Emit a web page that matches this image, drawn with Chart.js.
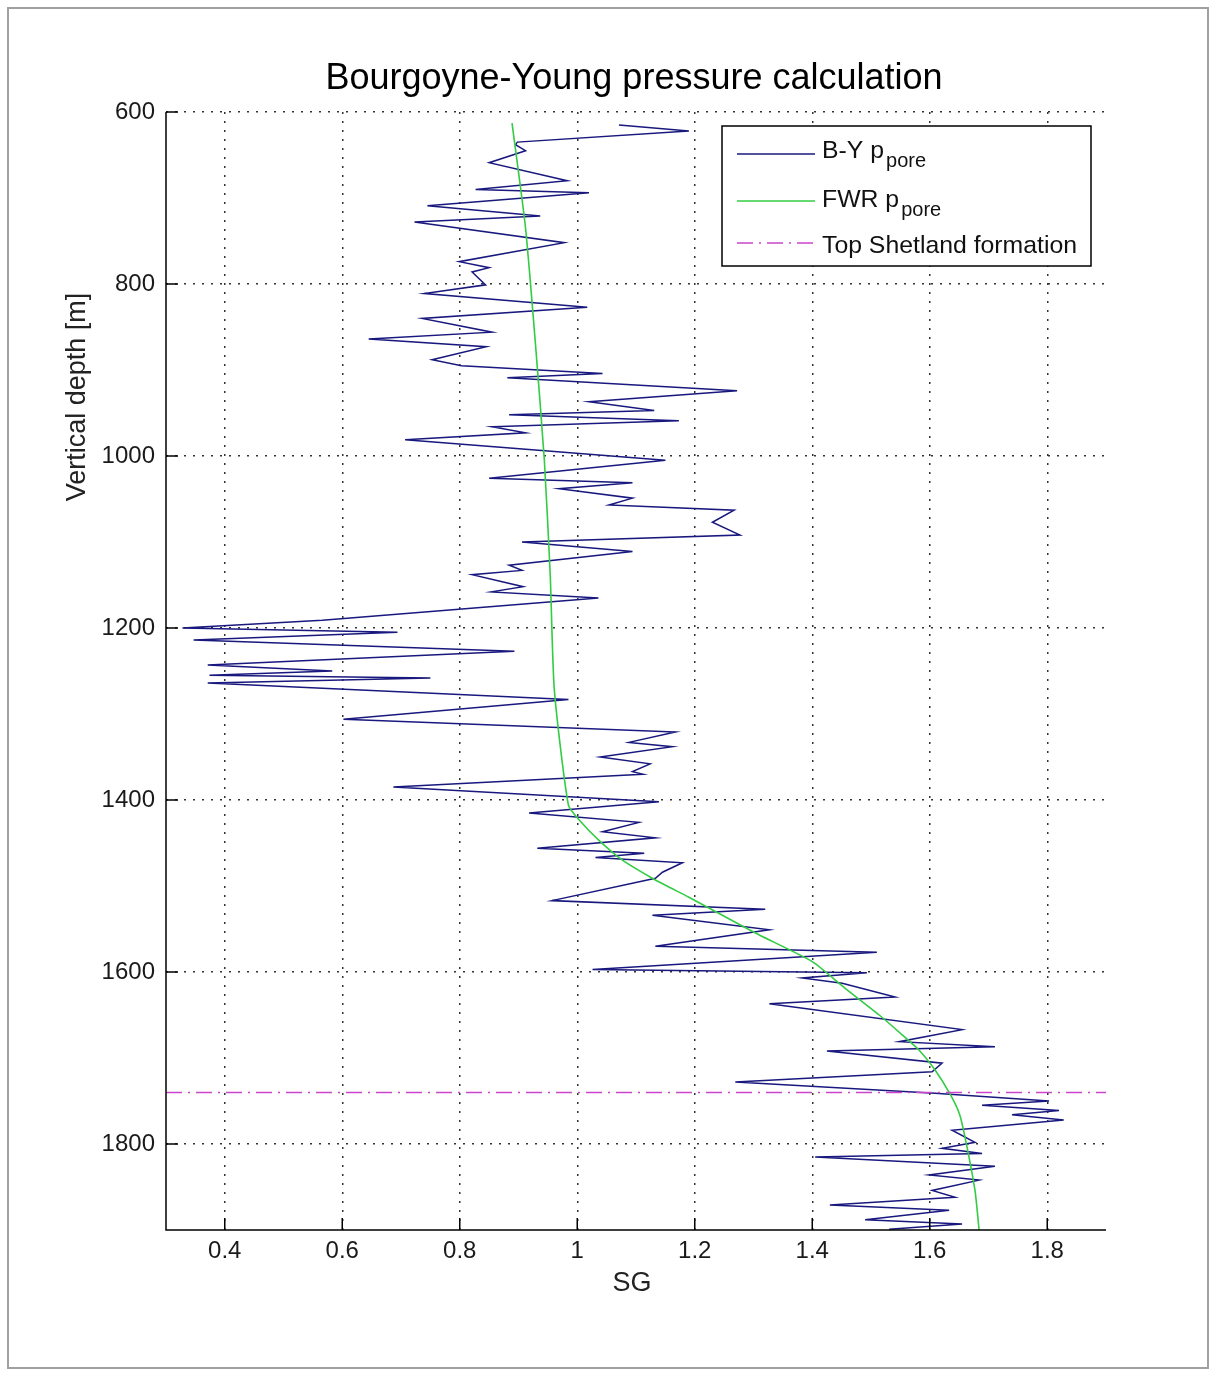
<!DOCTYPE html>
<html>
<head>
<meta charset="utf-8">
<script src="https://cdn.jsdelivr.net/npm/chart.js@4.4.1/dist/chart.umd.min.js"></script>
<style>
  html, body { margin: 0; padding: 0; background: #ffffff; }
  canvas { display: block; }
</style>
</head>
<body>
<canvas id="c" width="1216" height="1376"></canvas>
<script>
// ---------------- data ----------------
const titleText = 'Bourgoyne-Young pressure calculation';
const xLabel = 'SG';
const yLabel = 'Vertical depth [m]';

const xTicks = [0.4, 0.6, 0.8, 1, 1.2, 1.4, 1.6, 1.8];
const yTicks = [600, 800, 1000, 1200, 1400, 1600, 1800];

// B-Y p_pore (SG vs depth)
const bySG = [1.071,1.190,0.898,0.895,0.912,0.850,0.983,0.827,1.020,0.745,
  0.937,0.723,0.978,0.799,0.850,0.821,0.844,0.740,1.017,0.736,
  0.855,0.645,0.845,0.753,0.803,1.043,0.881,1.272,1.020,1.131,
  0.884,1.173,0.855,0.912,0.707,1.150,0.850,1.094,0.969,1.094,
  1.054,1.267,1.230,1.277,0.906,1.094,0.884,0.906,0.821,0.908,
  0.854,1.036,0.566,0.328,0.694,0.347,0.893,0.371,0.583,0.374,
  0.750,0.371,0.985,0.602,1.167,1.088,1.162,1.039,1.124,1.094,
  1.112,0.687,1.139,0.918,1.105,1.043,1.133,0.932,1.114,1.031,
  1.179,1.145,1.133,0.957,1.320,1.128,1.327,1.133,1.510,1.026,
  1.493,1.383,1.451,1.541,1.327,1.655,1.548,1.711,1.425,1.621,
  1.604,1.269,1.609,1.803,1.689,1.820,1.740,1.828,1.638,1.677,
  1.621,1.689,1.405,1.711,1.599,1.684,1.604,1.643,1.430,1.633,
  1.490,1.655,1.531];
const byDepth = [615,622,635,638,645,659,680,690,694,709,
  721,728,752,774,781,786,801,811,827,840,
  856,864,873,888,895,904,909,924,937,947,
  952,959,966,973,981,1005,1026,1031,1038,1049,
  1057,1063,1077,1092,1100,1111,1127,1133,1138,1152,
  1158,1165,1191,1200,1205,1214,1227,1243,1250,1255,
  1258,1264,1283,1306,1321,1333,1338,1350,1358,1367,
  1370,1385,1402,1415,1426,1437,1444,1456,1462,1467,
  1473,1484,1491,1517,1527,1534,1551,1570,1577,1597,
  1601,1607,1613,1629,1637,1667,1681,1687,1692,1706,
  1716,1728,1741,1750,1755,1761,1766,1772,1784,1798,
  1805,1811,1815,1826,1836,1842,1854,1862,1871,1877,
  1888,1893,1899];

// FWR p_pore
const fwrSG = [0.889,0.912,0.929,0.944,0.954,0.961,0.985,1.003,1.037,1.077,
  1.133,1.190,1.247,1.310,1.400,1.456,1.514,1.553,1.582,1.609,
  1.633,1.650,1.660,1.677,1.684];
const fwrDepth = [613,735,871,1005,1138,1272,1406,1423,1447,1470,
  1493,1513,1534,1557,1588,1619,1650,1673,1691,1714,
  1740,1764,1792,1854,1900];

// Top Shetland formation
const shetlandDepth = 1740;
const shetlandSG = [0.3, 1.9];

const legendMain = ['B-Y p', 'FWR p', 'Top Shetland formation'];
const legendSub = ['pore', 'pore', ''];

// ---------------- style ----------------
const FONT = "'Liberation Sans', Arial, Helvetica, sans-serif";
const C_BLUE = '#18187e';
const C_GREEN = '#33cc44';
const C_MAG = '#cc44cc';
const SHET_DASH = [16, 6, 2, 6];

const toXY = (xs, ys) => xs.map((v, i) => ({ x: v, y: ys[i] }));

const decor = {
  id: 'decor',
  beforeDraw(chart) {
    const ctx = chart.ctx;
    ctx.save();
    ctx.fillStyle = '#ffffff';
    ctx.fillRect(0, 0, chart.width, chart.height);
    ctx.restore();
  },
  afterDraw(chart) {
    const { ctx, chartArea: a, scales } = chart;
    const xs = scales.x, ys = scales.y;
    ctx.save();
    // axes lines (left & bottom)
    ctx.strokeStyle = '#000';
    ctx.lineWidth = 1.5;
    ctx.beginPath();
    ctx.moveTo(a.left, a.top);
    ctx.lineTo(a.left, a.bottom);
    ctx.lineTo(a.right, a.bottom);
    ctx.stroke();
    // inward tick marks
    ctx.beginPath();
    xTicks.forEach(v => {
      const px = xs.getPixelForValue(v);
      ctx.moveTo(px, a.bottom);
      ctx.lineTo(px, a.bottom - 12);
    });
    yTicks.forEach(v => {
      const py = ys.getPixelForValue(v);
      ctx.moveTo(a.left, py);
      ctx.lineTo(a.left + 12, py);
    });
    ctx.stroke();

    // title
    ctx.fillStyle = '#000';
    ctx.font = '36px ' + FONT;
    ctx.textAlign = 'center';
    ctx.textBaseline = 'alphabetic';
    ctx.fillText(titleText, 634, 89);

    // x label
    ctx.fillStyle = '#222';
    ctx.font = '27px ' + FONT;
    ctx.textBaseline = 'middle';
    ctx.fillText(xLabel, 632, 1284);

    // y label
    ctx.save();
    ctx.translate(78, 397);
    ctx.rotate(-Math.PI / 2);
    ctx.fillText(yLabel, 0, 0);
    ctx.restore();

    // legend
    const bx = 722, by = 126, bw = 369, bh = 140;
    ctx.fillStyle = '#fff';
    ctx.fillRect(bx, by, bw, bh);
    ctx.strokeStyle = '#000';
    ctx.lineWidth = 1.5;
    ctx.strokeRect(bx, by, bw, bh);
    const rowsY = [154, 201, 243];
    const baseOff = [4, 6, 10];
    const colors = [C_BLUE, C_GREEN, C_MAG];
    rowsY.forEach((ry, i) => {
      ctx.beginPath();
      ctx.strokeStyle = colors[i];
      ctx.lineWidth = 1.5;
      ctx.setLineDash(i === 2 ? SHET_DASH : []);
      ctx.moveTo(737, ry);
      ctx.lineTo(815, ry);
      ctx.stroke();
      ctx.setLineDash([]);
      ctx.fillStyle = '#111';
      ctx.textAlign = 'left';
      ctx.textBaseline = 'alphabetic';
      ctx.font = '24.8px ' + FONT;
      const base = ry + baseOff[i];
      ctx.fillText(legendMain[i], 822, base);
      if (legendSub[i]) {
        const w = ctx.measureText(legendMain[i]).width;
        ctx.font = '20px ' + FONT;
        ctx.fillText(legendSub[i], 822 + w + 2, base + 9);
      }
    });

    // outer frame
    ctx.strokeStyle = '#a0a0a0';
    ctx.lineWidth = 2;
    ctx.strokeRect(8, 8, 1200, 1360);
    ctx.restore();
  }
};

new Chart(document.getElementById('c'), {
  type: 'scatter',
  data: {
    datasets: [
      {
        label: 'B-Y p_pore',
        data: toXY(bySG, byDepth),
        showLine: true,
        borderColor: C_BLUE,
        borderWidth: 1.5,
        pointRadius: 0,
        tension: 0,
        order: 3
      },
      {
        label: 'FWR p_pore',
        data: toXY(fwrSG, fwrDepth),
        showLine: true,
        borderColor: C_GREEN,
        borderWidth: 1.6,
        pointRadius: 0,
        tension: 0.2,
        order: 2
      },
      {
        label: 'Top Shetland formation',
        data: shetlandSG.map(v => ({ x: v, y: shetlandDepth })),
        showLine: true,
        borderColor: C_MAG,
        borderWidth: 1.5,
        borderDash: SHET_DASH,
        pointRadius: 0,
        order: 1
      }
    ]
  },
  options: {
    responsive: false,
    animation: false,
    devicePixelRatio: 1,
    layout: { padding: { top: 112, right: 110, bottom: 0, left: 0 } },
    plugins: {
      legend: { display: false },
      tooltip: { enabled: false },
      title: { display: false }
    },
    scales: {
      x: {
        type: 'linear',
        min: 0.3,
        max: 1.9,
        afterBuildTicks: s => { s.ticks = xTicks.map(v => ({ value: v })); },
        afterFit: s => { s.height = 146; },
        ticks: {
          callback: v => String(v),
          font: { family: FONT, size: 24 },
          color: '#1a1a1a',
          padding: 7,
          autoSkip: false,
          maxRotation: 0
        },
        grid: { color: '#333', lineWidth: 1.5, drawTicks: false },
        border: { display: false, dash: [2, 7] }
      },
      y: {
        type: 'linear',
        reverse: true,
        min: 600,
        max: 1900,
        afterBuildTicks: s => { s.ticks = yTicks.map(v => ({ value: v })); },
        afterFit: s => { s.width = 166; },
        ticks: {
          callback: v => String(v),
          font: { family: FONT, size: 24 },
          color: '#1a1a1a',
          padding: 11,
          autoSkip: false
        },
        grid: { color: '#333', lineWidth: 1.5, drawTicks: false },
        border: { display: false, dash: [2, 7] }
      }
    }
  },
  plugins: [decor]
});
</script>
</body>
</html>
